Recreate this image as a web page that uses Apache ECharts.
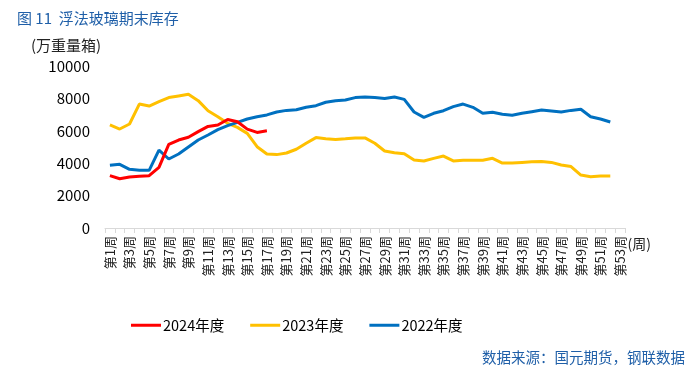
<!DOCTYPE html>
<html><head><meta charset="utf-8">
<script src="https://cdn.jsdelivr.net/npm/echarts@6/dist/echarts.min.js"></script>
<style>html,body{margin:0;padding:0;background:#fff}#c{width:700px;height:380px}</style>
</head><body><div id="c"></div>
<script>
var weeks = ['第1周','第2周','第3周','第4周','第5周','第6周','第7周','第8周','第9周','第10周',
'第11周','第12周','第13周','第14周','第15周','第16周','第17周','第18周','第19周','第20周',
'第21周','第22周','第23周','第24周','第25周','第26周','第27周','第28周','第29周','第30周',
'第31周','第32周','第33周','第34周','第35周','第36周','第37周','第38周','第39周','第40周',
'第41周','第42周','第43周','第44周','第45周','第46周','第47周','第48周','第49周','第50周',
'第51周','第52周','第53周'];
var s2024 = [3230,3040,3150,3190,3230,3740,5160,5430,5600,5950,6270,6360,6700,6560,6100,5900,6000];
var s2023 = [6360,6110,6420,7650,7530,7800,8050,8150,8250,7860,7240,6870,6460,6210,5840,5020,4570,4530,4630,4860,
5230,5580,5510,5470,5510,5560,5560,5230,4750,4650,4590,4200,4140,4300,4440,4140,4180,4180,4180,4300,
4010,4010,4050,4090,4110,4050,3890,3790,3270,3170,3210,3210];
var s2022 = [3870,3930,3620,3560,3560,4810,4260,4570,5000,5430,5740,6070,6320,6520,6730,6870,6980,7160,7260,7300,
7450,7550,7760,7860,7900,8050,8090,8050,8000,8090,7940,7160,6830,7080,7240,7490,7650,7450,7080,7140,
7020,6960,7080,7180,7280,7220,7160,7260,7330,6870,6730,6540];
var yTicks = [0,2000,4000,6000,8000,10000];
var names = ['2024年度','2023年度','2022年度'];
var colors = ['#FF0000','#FFC000','#0070C0'];

var FF = '"Noto Sans CJK SC","Noto Sans",sans-serif';
var chart = echarts.init(document.getElementById('c'));
function mk(name, data, color){
  return {name:name,type:'line',data:data,symbol:'none',smooth:false,
    lineStyle:{width:3,color:color},itemStyle:{color:color},z:name==='2024年度'?5:3};
}
chart.setOption({
  animation:false,
  textStyle:{fontFamily:FF},
  title:[
    {text:'图 11  浮法玻璃期末库存',left:12,top:6,textStyle:{color:'#1F5FA8',fontSize:15,fontWeight:'normal',fontFamily:FF}},
    {text:'(万重量箱)',left:26,top:33,textStyle:{color:'#222',fontSize:15,fontWeight:'normal',fontFamily:FF}},
    {text:'数据来源：国元期货，钢联数据',right:10,top:345,textStyle:{color:'#1F5FA8',fontSize:14.5,fontWeight:'normal',fontFamily:FF}}
  ],
  legend:{data:names,left:126,top:313,itemWidth:30,itemHeight:3,itemGap:26,
    icon:'rect',textStyle:{fontSize:14.5,color:'#000',fontFamily:FF,padding:[0,0,0,-3]}},
  grid:{left:105,right:75,top:66,bottom:152},
  xAxis:{type:'category',data:weeks,boundaryGap:true,
    name:'(周)',nameLocation:'end',nameGap:2,
    nameTextStyle:{fontSize:14,color:'#222',verticalAlign:'top',padding:[9,0,0,0]},
    axisLine:{lineStyle:{color:'#D9D9D9',width:1}},
    axisTick:{show:true,alignWithLabel:false,interval:0,length:5,lineStyle:{color:'#D9D9D9'}},
    axisLabel:{interval:1,rotate:90,fontSize:13,color:'#222',margin:8,fontFamily:FF}},
  yAxis:{type:'value',min:yTicks[0],max:yTicks[yTicks.length-1],interval:yTicks[1]-yTicks[0],
    axisLine:{show:false},axisTick:{show:false},splitLine:{show:false},
    axisLabel:{fontSize:15,color:'#000',margin:15,fontFamily:FF,formatter:function(v){return String(v);}}},
  series:[mk(names[0],s2024,colors[0]),mk(names[1],s2023,colors[1]),mk(names[2],s2022,colors[2])]
});
</script></body></html>
